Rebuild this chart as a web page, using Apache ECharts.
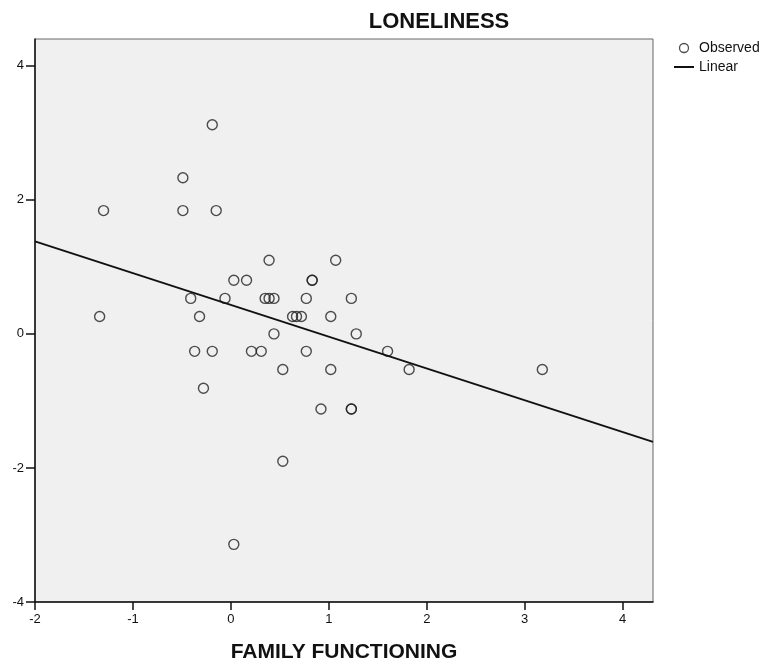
<!DOCTYPE html>
<html>
<head>
<meta charset="utf-8">
<script src="https://cdn.jsdelivr.net/npm/echarts@6/dist/echarts.min.js"></script>
<style>
html,body{margin:0;padding:0;background:#fff;}
#chart{width:771px;height:664px;}
</style>
</head>
<body>
<div id="chart"></div>
<script>
// Observed points (FAMILY FUNCTIONING, LONELINESS)
const familyFunctioning = [-0.19,-0.49,-1.30,-0.49,-0.15,0.39,1.07,0.03,0.16,0.83,0.83,-0.41,-0.06,0.35,0.39,0.44,0.77,1.23,-1.34,-0.32,0.63,0.67,0.72,1.02,0.44,1.28,-0.37,-0.19,0.21,0.31,0.77,1.60,-0.28,0.53,1.02,1.82,3.18,0.92,1.23,1.23,0.53,0.03];
const loneliness = [3.12,2.33,1.84,1.84,1.84,1.10,1.10,0.80,0.80,0.80,0.80,0.53,0.53,0.53,0.53,0.53,0.53,0.53,0.26,0.26,0.26,0.26,0.26,0.26,0.00,0.00,-0.26,-0.26,-0.26,-0.26,-0.26,-0.26,-0.81,-0.53,-0.53,-0.53,-0.53,-1.12,-1.12,-1.12,-1.90,-3.14];
// Linear fit line endpoints
const fitX = [-2, 4.31];
const fitY = [1.38, -1.61];
// Tick labels
const xTicks = [-2,-1,0,1,2,3,4];
const yTicks = [-4,-2,0,2,4];

const FONT = "'Liberation Sans Narrow','Arial Narrow','Liberation Sans',Arial,sans-serif";
const observed = familyFunctioning.map((x,i)=>[x, loneliness[i]]);
const fit = fitX.map((x,i)=>[x, fitY[i]]);

const chart = echarts.init(document.getElementById('chart'), null, {renderer:'canvas'});
chart.setOption({
  animation:false,
  backgroundColor:'#fff',
  title:{
    text:'LONELINESS', left:434, top:6, textAlign:'center',
    textStyle:{fontFamily:FONT, fontWeight:'bold', fontSize:22, color:'#111'}
  },
  legend:{
    orient:'vertical', left:673, top:41, padding:0, itemGap:5, itemWidth:20, itemHeight:9,
    textStyle:{fontFamily:FONT, fontSize:14, color:'#111'},
    data:[
      {name:'Observed', icon:'circle', itemStyle:{color:'transparent', borderColor:'#222', borderWidth:1.3}},
      {name:'Linear', itemStyle:{color:'transparent', borderWidth:0, opacity:0}}
    ]
  },
  grid:{
    left:35, right:118, top:39, bottom:62,
    show:true, backgroundColor:'#f0f0f0', borderColor:'#666', borderWidth:1,
    outerBoundsMode:'none'
  },
  xAxis:{
    type:'value', min:-2, max:4.31, interval:1,
    name:'FAMILY FUNCTIONING', nameLocation:'middle', nameGap:40,
    nameTextStyle:{fontFamily:FONT, fontWeight:'bold', fontSize:21, color:'#111'},
    axisLine:{show:true, onZero:false, lineStyle:{color:'#111', width:1.5}},
    axisTick:{show:true, length:8, lineStyle:{color:'#111', width:1.5}, customValues:xTicks},
    axisLabel:{fontFamily:FONT, fontSize:13, color:'#111', margin:11, customValues:xTicks},
    splitLine:{show:false}
  },
  yAxis:{
    type:'value', min:-4, max:4.4, interval:2,
    axisLine:{show:true, onZero:false, lineStyle:{color:'#111', width:1.5}},
    axisTick:{show:true, length:9, lineStyle:{color:'#111', width:1.5}, customValues:yTicks},
    axisLabel:{fontFamily:FONT, fontSize:13, color:'#111', margin:11, customValues:yTicks},
    splitLine:{show:false}
  },
  series:[
    {
      name:'Observed', type:'scatter', data:observed, symbol:'circle', symbolSize:10,
      itemStyle:{color:'transparent', borderColor:'#222', borderWidth:1.4},
      emphasis:{disabled:true}
    },
    {
      name:'Linear', type:'line', data:fit, symbol:'none', showSymbol:false,
      lineStyle:{color:'#111', width:1.8},
      itemStyle:{color:'#111'},
      emphasis:{disabled:true}
    }
  ]
});
</script>
</body>
</html>
